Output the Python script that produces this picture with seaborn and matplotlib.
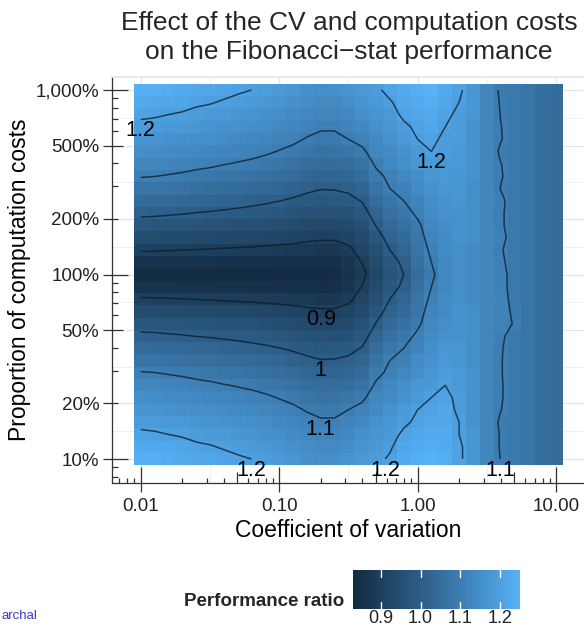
import numpy as np
import pandas as pd
import matplotlib
matplotlib.use("Agg")
import matplotlib.pyplot as plt
import matplotlib.colors as mcolors
import matplotlib.transforms as mtransforms
import seaborn as sns

# simulation grid: coefficient of variation (columns) and computation costs in % (rows, bottom -> top)
cv = [0.01, 0.0126, 0.0158, 0.02, 0.0251, 0.0316, 0.0398, 0.0501, 0.0631, 0.0794,
      0.1, 0.126, 0.158, 0.2, 0.251, 0.316, 0.398, 0.501, 0.631, 0.794,
      1.0, 1.26, 1.58, 2.0, 2.51, 3.16, 3.98, 5.01, 6.31, 7.94, 10.0]
cost_pct = [10, 11.66, 13.59, 15.85, 18.48, 21.54, 25.12, 29.29, 34.15, 39.81,
            46.42, 54.12, 63.1, 73.56, 85.77, 100, 116.6, 135.9, 158.5, 184.8,
            215.4, 251.2, 292.9, 341.5, 398.1, 464.2, 541.2, 631.0, 735.6, 857.7, 1000]

# performance ratio, one row per cost level, from 1000% (top) down to 10% (bottom)
ratio_rows = [
    [1.245, 1.242, 1.237, 1.233, 1.225, 1.220, 1.213, 1.206, 1.200, 1.192, 1.182, 1.172, 1.158, 1.150, 1.152, 1.165, 1.180, 1.190, 1.215, 1.23, 1.24, 1.25, 1.23, 1.21, 1.17, 1.125, 1.094, 1.085, 1.07, 1.055, 1.045],
    [1.227, 1.224, 1.219, 1.214, 1.207, 1.203, 1.196, 1.189, 1.183, 1.176, 1.166, 1.156, 1.144, 1.136, 1.138, 1.150, 1.167, 1.179, 1.195, 1.22, 1.23, 1.24, 1.22, 1.20, 1.17, 1.125, 1.097, 1.085, 1.07, 1.055, 1.045],
    [1.208, 1.205, 1.200, 1.196, 1.189, 1.184, 1.178, 1.172, 1.166, 1.158, 1.150, 1.141, 1.129, 1.121, 1.122, 1.134, 1.152, 1.167, 1.18, 1.21, 1.22, 1.23, 1.21, 1.19, 1.17, 1.125, 1.099, 1.085, 1.07, 1.055, 1.045],
    [1.188, 1.186, 1.181, 1.177, 1.170, 1.166, 1.160, 1.154, 1.149, 1.142, 1.134, 1.125, 1.114, 1.106, 1.106, 1.118, 1.134, 1.154, 1.17, 1.19, 1.21, 1.22, 1.20, 1.19, 1.16, 1.125, 1.101, 1.085, 1.07, 1.055, 1.045],
    [1.168, 1.165, 1.161, 1.157, 1.151, 1.147, 1.142, 1.136, 1.131, 1.125, 1.117, 1.109, 1.097, 1.088, 1.088, 1.100, 1.114, 1.140, 1.16, 1.18, 1.20, 1.21, 1.19, 1.19, 1.16, 1.125, 1.102, 1.085, 1.07, 1.055, 1.045],
    [1.147, 1.145, 1.141, 1.137, 1.132, 1.128, 1.123, 1.118, 1.113, 1.107, 1.098, 1.089, 1.075, 1.066, 1.067, 1.077, 1.091, 1.124, 1.14, 1.16, 1.18, 1.20, 1.19, 1.18, 1.16, 1.125, 1.094, 1.085, 1.07, 1.055, 1.045],
    [1.126, 1.124, 1.120, 1.117, 1.112, 1.108, 1.102, 1.097, 1.092, 1.084, 1.075, 1.065, 1.053, 1.045, 1.046, 1.053, 1.069, 1.107, 1.13, 1.15, 1.17, 1.18, 1.18, 1.18, 1.16, 1.125, 1.101, 1.085, 1.07, 1.055, 1.045],
    [1.103, 1.101, 1.097, 1.093, 1.087, 1.083, 1.077, 1.071, 1.065, 1.058, 1.051, 1.042, 1.031, 1.024, 1.025, 1.031, 1.047, 1.088, 1.11, 1.13, 1.15, 1.17, 1.18, 1.17, 1.16, 1.125, 1.103, 1.085, 1.07, 1.055, 1.045],
    [1.074, 1.072, 1.067, 1.063, 1.058, 1.054, 1.049, 1.044, 1.039, 1.033, 1.026, 1.018, 1.009, 1.002, 1.003, 1.009, 1.025, 1.068, 1.10, 1.11, 1.14, 1.16, 1.17, 1.17, 1.15, 1.125, 1.099, 1.085, 1.07, 1.055, 1.045],
    [1.043, 1.041, 1.037, 1.034, 1.029, 1.026, 1.021, 1.017, 1.012, 1.007, 1.001, 0.994, 0.986, 0.980, 0.981, 0.986, 1.003, 1.047, 1.08, 1.10, 1.12, 1.15, 1.16, 1.17, 1.15, 1.125, 1.107, 1.085, 1.07, 1.055, 1.045],
    [1.011, 1.009, 1.006, 1.003, 0.999, 0.996, 0.993, 0.989, 0.985, 0.981, 0.975, 0.969, 0.962, 0.957, 0.958, 0.963, 0.979, 1.025, 1.06, 1.08, 1.11, 1.14, 1.16, 1.16, 1.15, 1.125, 1.105, 1.085, 1.07, 1.055, 1.045],
    [0.978, 0.977, 0.974, 0.972, 0.968, 0.966, 0.963, 0.960, 0.957, 0.953, 0.948, 0.943, 0.938, 0.934, 0.934, 0.940, 0.958, 1.002, 1.04, 1.06, 1.09, 1.13, 1.15, 1.16, 1.15, 1.125, 1.105, 1.085, 1.07, 1.055, 1.045],
    [0.944, 0.943, 0.941, 0.939, 0.936, 0.935, 0.932, 0.930, 0.927, 0.925, 0.921, 0.917, 0.911, 0.907, 0.907, 0.916, 0.938, 0.977, 1.02, 1.04, 1.08, 1.12, 1.14, 1.16, 1.15, 1.125, 1.110, 1.085, 1.07, 1.055, 1.045],
    [0.906, 0.905, 0.903, 0.901, 0.899, 0.897, 0.895, 0.893, 0.891, 0.888, 0.885, 0.882, 0.878, 0.875, 0.876, 0.890, 0.919, 0.956, 1.00, 1.03, 1.07, 1.11, 1.14, 1.15, 1.14, 1.125, 1.103, 1.085, 1.07, 1.055, 1.045],
    [0.859, 0.859, 0.858, 0.857, 0.856, 0.855, 0.854, 0.853, 0.852, 0.851, 0.849, 0.848, 0.847, 0.846, 0.849, 0.868, 0.902, 0.940, 0.98, 1.01, 1.06, 1.10, 1.13, 1.15, 1.14, 1.125, 1.107, 1.085, 1.07, 1.055, 1.045],
    [0.830, 0.830, 0.830, 0.830, 0.830, 0.830, 0.830, 0.830, 0.830, 0.830, 0.830, 0.830, 0.830, 0.830, 0.838, 0.858, 0.888, 0.930, 0.97, 1.00, 1.05, 1.09, 1.13, 1.15, 1.14, 1.125, 1.113, 1.085, 1.07, 1.055, 1.045],
    [0.859, 0.859, 0.858, 0.857, 0.856, 0.855, 0.854, 0.853, 0.852, 0.851, 0.849, 0.848, 0.847, 0.846, 0.849, 0.868, 0.902, 0.940, 0.98, 1.01, 1.06, 1.10, 1.13, 1.15, 1.14, 1.125, 1.113, 1.085, 1.07, 1.055, 1.045],
    [0.906, 0.905, 0.903, 0.901, 0.899, 0.897, 0.895, 0.893, 0.891, 0.888, 0.885, 0.882, 0.878, 0.875, 0.876, 0.890, 0.919, 0.956, 1.00, 1.03, 1.07, 1.11, 1.14, 1.15, 1.14, 1.125, 1.118, 1.085, 1.07, 1.055, 1.045],
    [0.944, 0.943, 0.941, 0.939, 0.936, 0.935, 0.932, 0.930, 0.927, 0.925, 0.921, 0.917, 0.911, 0.907, 0.907, 0.916, 0.938, 0.977, 1.02, 1.04, 1.08, 1.12, 1.14, 1.16, 1.15, 1.125, 1.115, 1.093, 1.07, 1.055, 1.045],
    [0.978, 0.977, 0.974, 0.972, 0.968, 0.966, 0.963, 0.960, 0.957, 0.953, 0.948, 0.943, 0.938, 0.934, 0.934, 0.940, 0.958, 1.002, 1.04, 1.06, 1.09, 1.13, 1.15, 1.16, 1.15, 1.125, 1.115, 1.097, 1.07, 1.055, 1.045],
    [1.011, 1.009, 1.006, 1.003, 0.999, 0.996, 0.993, 0.989, 0.985, 0.981, 0.975, 0.969, 0.962, 0.957, 0.958, 0.963, 0.979, 1.025, 1.06, 1.08, 1.11, 1.14, 1.16, 1.16, 1.15, 1.125, 1.107, 1.085, 1.07, 1.055, 1.045],
    [1.043, 1.041, 1.037, 1.034, 1.029, 1.026, 1.021, 1.017, 1.012, 1.007, 1.001, 0.994, 0.986, 0.980, 0.981, 0.986, 1.003, 1.047, 1.08, 1.10, 1.12, 1.15, 1.17, 1.17, 1.15, 1.125, 1.103, 1.085, 1.07, 1.055, 1.045],
    [1.074, 1.072, 1.067, 1.063, 1.058, 1.054, 1.049, 1.044, 1.039, 1.033, 1.026, 1.018, 1.009, 1.002, 1.003, 1.009, 1.025, 1.068, 1.10, 1.11, 1.14, 1.16, 1.18, 1.17, 1.15, 1.125, 1.102, 1.085, 1.07, 1.055, 1.045],
    [1.103, 1.101, 1.097, 1.093, 1.087, 1.083, 1.077, 1.071, 1.065, 1.058, 1.051, 1.042, 1.031, 1.024, 1.025, 1.031, 1.047, 1.088, 1.11, 1.13, 1.15, 1.17, 1.19, 1.18, 1.16, 1.125, 1.102, 1.085, 1.07, 1.055, 1.045],
    [1.126, 1.124, 1.120, 1.117, 1.112, 1.108, 1.102, 1.097, 1.092, 1.084, 1.075, 1.065, 1.053, 1.045, 1.046, 1.053, 1.069, 1.107, 1.13, 1.15, 1.17, 1.18, 1.20, 1.18, 1.16, 1.125, 1.103, 1.085, 1.07, 1.055, 1.045],
    [1.147, 1.145, 1.141, 1.137, 1.132, 1.128, 1.123, 1.118, 1.113, 1.107, 1.098, 1.089, 1.075, 1.066, 1.067, 1.077, 1.091, 1.124, 1.14, 1.16, 1.18, 1.20, 1.21, 1.19, 1.16, 1.125, 1.103, 1.085, 1.07, 1.055, 1.045],
    [1.168, 1.165, 1.161, 1.157, 1.151, 1.147, 1.142, 1.136, 1.131, 1.125, 1.117, 1.109, 1.097, 1.088, 1.088, 1.100, 1.114, 1.140, 1.16, 1.18, 1.20, 1.21, 1.22, 1.19, 1.16, 1.125, 1.101, 1.085, 1.07, 1.055, 1.045],
    [1.188, 1.186, 1.181, 1.177, 1.170, 1.166, 1.160, 1.154, 1.149, 1.142, 1.134, 1.125, 1.114, 1.106, 1.106, 1.118, 1.134, 1.154, 1.17, 1.19, 1.21, 1.22, 1.22, 1.20, 1.16, 1.125, 1.094, 1.085, 1.07, 1.055, 1.045],
    [1.208, 1.205, 1.200, 1.196, 1.189, 1.184, 1.178, 1.172, 1.166, 1.158, 1.150, 1.141, 1.129, 1.121, 1.122, 1.134, 1.152, 1.167, 1.18, 1.21, 1.22, 1.23, 1.23, 1.20, 1.17, 1.125, 1.097, 1.085, 1.07, 1.055, 1.045],
    [1.227, 1.224, 1.219, 1.214, 1.207, 1.203, 1.196, 1.189, 1.183, 1.176, 1.166, 1.156, 1.144, 1.136, 1.138, 1.150, 1.167, 1.179, 1.195, 1.22, 1.23, 1.24, 1.23, 1.21, 1.17, 1.125, 1.097, 1.085, 1.07, 1.055, 1.045],
    [1.245, 1.242, 1.237, 1.233, 1.225, 1.220, 1.213, 1.206, 1.200, 1.192, 1.182, 1.172, 1.158, 1.150, 1.152, 1.165, 1.180, 1.190, 1.205, 1.23, 1.24, 1.25, 1.24, 1.21, 1.17, 1.125, 1.099, 1.085, 1.07, 1.055, 1.045],
]

levels = [0.9, 1.0, 1.1, 1.2]
x_breaks = [0.01, 0.1, 1, 10]
x_labels = ["0.01", "0.10", "1.00", "10.00"]
y_breaks = [10, 20, 50, 100, 200, 500, 1000]
y_labels = ["10%", "20%", "50%", "100%", "200%", "500%", "1,000%"]
cbar_ticks = [0.9, 1.0, 1.1, 1.2]

# visible range of the panel, in log10 units
x_view = (-2.207, 1.202)
y_view = (0.87, 3.0705)

M = np.array([[0.4124564, 0.3575761, 0.1804375],
              [0.2126729, 0.7151522, 0.0721750],
              [0.0193339, 0.1191920, 0.9503041]])
WHITE = np.array([0.95047, 1.0, 1.08883])


def to_lab(color):
    rgb = np.array(mcolors.to_rgb(color))
    lin = np.where(rgb <= 0.04045, rgb / 12.92, ((rgb + 0.055) / 1.055) ** 2.4)
    xyz = M @ lin / WHITE
    f = np.where(xyz > 0.008856, np.cbrt(xyz), 7.787 * xyz + 16 / 116)
    return np.array([116 * f[1] - 16, 500 * (f[0] - f[1]), 200 * (f[1] - f[2])])


def from_lab(lab):
    fy = (lab[0] + 16) / 116
    f = np.array([fy + lab[1] / 500, fy, fy - lab[2] / 200])
    xyz = np.where(f ** 3 > 0.008856, f ** 3, (f - 16 / 116) / 7.787) * WHITE
    lin = np.clip(np.linalg.solve(M, xyz), 0, 1)
    return np.where(lin <= 0.0031308, 12.92 * lin, 1.055 * lin ** (1 / 2.4) - 0.055)


# ggplot-like gradient, interpolated in Lab space
lo, hi = to_lab("#132B43"), to_lab("#56B1F7")
ramp = [np.clip(from_lab(lo + t * (hi - lo)), 0, 1) for t in np.linspace(0, 1, 256)]
cmap = mcolors.ListedColormap(ramp)

sns.set_theme(style="white")
plt.rcParams["font.family"] = ["Liberation Sans", "DejaVu Sans"]

df = pd.DataFrame(ratio_rows, index=cost_pct[::-1], columns=cv)
Z = df.to_numpy()

# heatmap cells sit at index positions; the grid is regular in log space
lx0 = np.log10(cv[0])
sx = (np.log10(cv[-1]) - lx0) / (len(cv) - 1)
ly1 = np.log10(cost_pct[-1])
sy = (ly1 - np.log10(cost_pct[0])) / (len(cost_pct) - 1)


def xpos(logv):
    return (np.asarray(logv) - lx0) / sx + 0.5


def ypos(logv):
    return (ly1 - np.asarray(logv)) / sy + 0.5


W, H = 584, 626
fig = plt.figure(figsize=(W / 100, H / 100), dpi=100)
ax = fig.add_axes([112 / W, 1 - 483 / H, (584 - 112) / W, (483 - 77) / H])
cax = fig.add_axes([353 / W, 1 - 609 / H, 167 / W, 39 / H])

sns.heatmap(df, ax=ax, cmap=cmap, cbar_ax=cax,
            cbar_kws={"orientation": "horizontal", "ticks": cbar_ticks},
            xticklabels=False, yticklabels=False)

xc = np.arange(Z.shape[1]) + 0.5
yc = np.arange(Z.shape[0]) + 0.5
cs = ax.contour(xc, yc, Z, levels=levels, colors="#0d1b29", linewidths=1.1, alpha=0.75)

# label each contour piece just under its lowest point
for lv, segs in zip(cs.levels, cs.allsegs):
    for seg in segs:
        if len(seg) < 2:
            continue
        k = np.argmax(seg[:, 1] - 1e-3 * seg[:, 0])
        ax.annotate(f"{lv:g}", xy=seg[k], xytext=(0, -0.5), textcoords="offset points",
                    ha="center", va="top", fontsize=15.5, color="black",
                    annotation_clip=False)

ax.set_xlim(xpos(x_view[0]), xpos(x_view[1]))
ax.set_ylim(ypos(y_view[0]), ypos(y_view[1]))

# grid: major breaks plus half-way minor breaks (log space)
ax.set_xticks(xpos(np.log10(x_breaks)))
ax.set_xticklabels(x_labels)
ax.set_yticks(ypos(np.log10(y_breaks)))
ax.set_yticklabels(y_labels)
ax.set_xticks(xpos(np.log10(x_breaks)[:-1] + 0.5), minor=True)
ylog = np.log10(y_breaks)
ax.set_yticks(ypos((ylog[:-1] + ylog[1:]) / 2), minor=True)
ax.set_axisbelow(True)
ax.grid(True, which="major", color="#E6E6E6", lw=1.0)
ax.grid(True, which="minor", color="#EFEFEF", lw=0.7)
ax.set_facecolor("white")

ax.tick_params(axis="both", which="major", direction="out", length=6.2, width=0.9,
               color="#333333", labelsize=13.5, labelcolor="#222222")
ax.tick_params(axis="x", which="major", pad=4.5)
ax.tick_params(axis="y", which="major", pad=3)
ax.tick_params(which="minor", length=0)
ax.tick_params(bottom=True, left=True)

for side in ["left", "bottom"]:
    ax.spines[side].set_visible(True)
    ax.spines[side].set_color("#333333")
    ax.spines[side].set_linewidth(0.9)
ax.spines["top"].set_visible(True)
ax.spines["top"].set_color("#E6E6E6")
ax.spines["right"].set_visible(False)

# log ticks drawn inside the panel
ax_w, ax_h = 584 - 112, 483 - 77


def log_marks(lo_v, hi_v):
    out = []
    for e in range(int(np.floor(lo_v)) - 1, int(np.ceil(hi_v)) + 1):
        for m in range(1, 10):
            v = np.log10(m) + e
            if lo_v <= v <= hi_v:
                out.append((v, 16 if m == 1 else (11 if m == 5 else 5.5)))
    return out


tx = mtransforms.blended_transform_factory(ax.transData, ax.transAxes)
for v, L in log_marks(*x_view):
    ax.plot([xpos(v)] * 2, [0, L / ax_h], transform=tx, color="#333333", lw=0.9,
            clip_on=False, solid_capstyle="butt")
ty = mtransforms.blended_transform_factory(ax.transAxes, ax.transData)
for v, L in log_marks(*y_view):
    ax.plot([0, L / ax_w], [ypos(v)] * 2, transform=ty, color="#333333", lw=0.9,
            clip_on=False, solid_capstyle="butt")

ax.set_xlabel("Coefficient of variation", fontsize=16.5, labelpad=3, color="black")
ax.set_ylabel("Proportion of computation costs", fontsize=16.5, labelpad=3, color="black")

fig.text(349 / W, 1 - 30 / H, "Effect of the CV and computation costs",
         ha="center", va="baseline", fontsize=19)
fig.text(349 / W, 1 - 59 / H, "on the Fibonacci\u2212stat performance",
         ha="center", va="baseline", fontsize=19)

# colour bar legend
cax.set_xticklabels([f"{t:.1f}" for t in cbar_ticks])
cax.tick_params(length=0, labelsize=13, pad=1, labelcolor="#222222")
tc = mtransforms.blended_transform_factory(cax.transData, cax.transAxes)
for t in cbar_ticks:
    cax.plot([t, t], [0, 0.17], transform=tc, color="white", lw=1)
    cax.plot([t, t], [0.83, 1], transform=tc, color="white", lw=1)
fig.text(344 / W, 1 - 601 / H, "Performance ratio", ha="right", va="center",
         fontsize=13.5, fontweight="bold")

fig.text(2 / W, 1 - 616 / H, "archal", ha="left", va="center", fontsize=9.5,
         color="#3A3AD0")

fig.savefig("out.png", dpi=100)
